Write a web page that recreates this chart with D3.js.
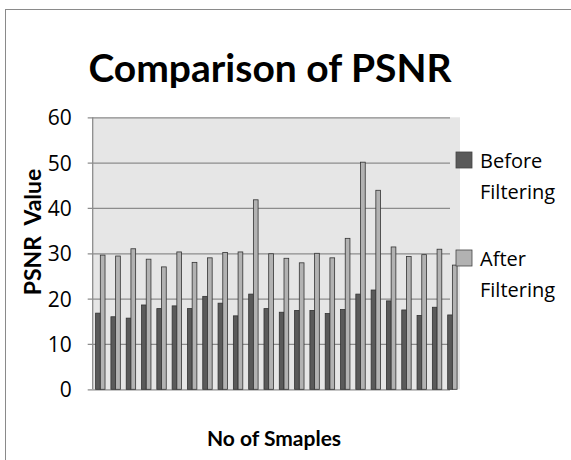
<!DOCTYPE html>
<html>
<head>
<meta charset="utf-8">
<script src="https://cdn.jsdelivr.net/npm/d3@7"></script>
<style>
  body { margin: 0; background: #fff; }
  text { font-family: Lato, "Open Sans", sans-serif; }
</style>
</head>
<body>
<div id="chart"></div>
<script>
const samples = d3.range(1, 25).map(String);
const before = [16.8, 16.0, 15.7, 18.6, 17.8, 18.4, 17.8, 20.5, 19.0, 16.2, 21.0, 17.8,
                17.0, 17.4, 17.4, 16.7, 17.6, 21.0, 21.9, 19.5, 17.5, 16.3, 18.1, 16.4];
const after = [29.6, 29.4, 31.0, 28.7, 27.0, 30.3, 28.0, 29.0, 30.2, 30.3, 41.8, 29.9,
               28.9, 27.9, 30.0, 29.0, 33.3, 50.1, 43.9, 31.4, 29.3, 29.7, 30.9, 27.4];
const seriesNames = ['Before Filtering', 'After Filtering'];
const yTicks = [0, 10, 20, 30, 40, 50, 60];

const width = 571, height = 460;
const plot = {left: 92.7, right: 460, top: 117.3, bottom: 389.3};
const colors = ['#5a5a5a', '#b2b2b2'];

const svg = d3.select('#chart').append('svg')
    .attr('width', width)
    .attr('height', height);

// outer chart border
svg.append('rect')
    .attr('x', 5.5).attr('y', 9.5)
    .attr('width', 600).attr('height', 500)
    .attr('fill', 'none')
    .attr('stroke', '#8a8a8a');

const x0 = d3.scaleBand()
    .domain(samples)
    .range([plot.left, plot.right])
    .paddingInner(0.385)
    .paddingOuter(0.19);

const x1 = d3.scaleBand()
    .domain([0, 1])
    .range([0, x0.bandwidth()]);

const y = d3.scaleLinear()
    .domain([0, 60])
    .range([plot.bottom, plot.top]);

svg.append('rect')
    .attr('x', plot.left).attr('y', plot.top)
    .attr('width', plot.right - plot.left)
    .attr('height', plot.bottom - plot.top)
    .attr('fill', '#e6e6e6');

// gridlines + tick labels
const yAxis = d3.axisLeft(y)
    .tickValues(yTicks)
    .tickSize(-(450 - plot.left))
    .tickPadding(21);

const yg = svg.append('g')
    .attr('transform', 'translate(' + plot.left + ',0)')
    .call(yAxis);
yg.select('.domain').remove();
yg.selectAll('.tick line')
    .attr('stroke', '#8c8c8c')
    .attr('stroke-width', 1.3)
    .attr('x1', -5);
yg.selectAll('.tick text')
    .attr('font-size', 21)
    .attr('fill', '#000')
    .attr('dy', '0.36em')
    .style('font-family', '"Open Sans", sans-serif');

// left axis line
svg.append('line')
    .attr('x1', plot.left).attr('x2', plot.left)
    .attr('y1', plot.top).attr('y2', plot.bottom)
    .attr('stroke', '#8c8c8c')
    .attr('stroke-width', 1.3);

// bars
const groups = svg.append('g').selectAll('g')
    .data(samples)
    .enter().append('g')
    .attr('transform', function(d) { return 'translate(' + x0(d) + ',0)'; });

groups.selectAll('rect')
    .data(function(d, i) { return [before[i], after[i]]; })
    .enter().append('rect')
    .attr('x', function(d, i) { return x1(i); })
    .attr('y', function(d) { return y(d); })
    .attr('width', x1.bandwidth())
    .attr('height', function(d) { return y(0) - y(d); })
    .attr('fill', function(d, i) { return colors[i]; })
    .attr('stroke', '#333')
    .attr('stroke-width', 0.8);

// title
svg.append('text')
    .attr('x', 270).attr('y', 82)
    .attr('text-anchor', 'middle')
    .attr('font-size', 39)
    .attr('font-weight', 'bold')
    .text('Comparison of PSNR');

// axis titles
svg.append('text')
    .attr('transform', 'translate(41,' + 232 + ') rotate(-90)')
    .attr('text-anchor', 'middle')
    .attr('font-size', 23)
    .attr('font-weight', 'bold')
    .style('white-space', 'pre')
    .text('PSNR  Value');

svg.append('text')
    .attr('x', 274).attr('y', 446)
    .attr('text-anchor', 'middle')
    .attr('font-size', 21)
    .attr('font-weight', 'bold')
    .text('No of Smaples');

// legend
const legend = svg.append('g').selectAll('g')
    .data(seriesNames)
    .enter().append('g')
    .attr('transform', function(d, i) { return 'translate(456,' + (152 + i * 98) + ')'; });

legend.append('rect')
    .attr('width', 16).attr('height', 16)
    .attr('fill', function(d, i) { return colors[i]; })
    .attr('stroke', '#444')
    .attr('stroke-width', 0.8);

legend.append('text')
    .attr('x', 24).attr('y', 16)
    .attr('font-size', 20)
    .style('font-family', '"Open Sans", sans-serif')
    .text(function(d) { return d.split(' ')[0]; });

legend.append('text')
    .attr('x', 24).attr('y', 47)
    .attr('font-size', 20)
    .style('font-family', '"Open Sans", sans-serif')
    .text(function(d) { return d.split(' ')[1]; });
</script>
</body>
</html>
